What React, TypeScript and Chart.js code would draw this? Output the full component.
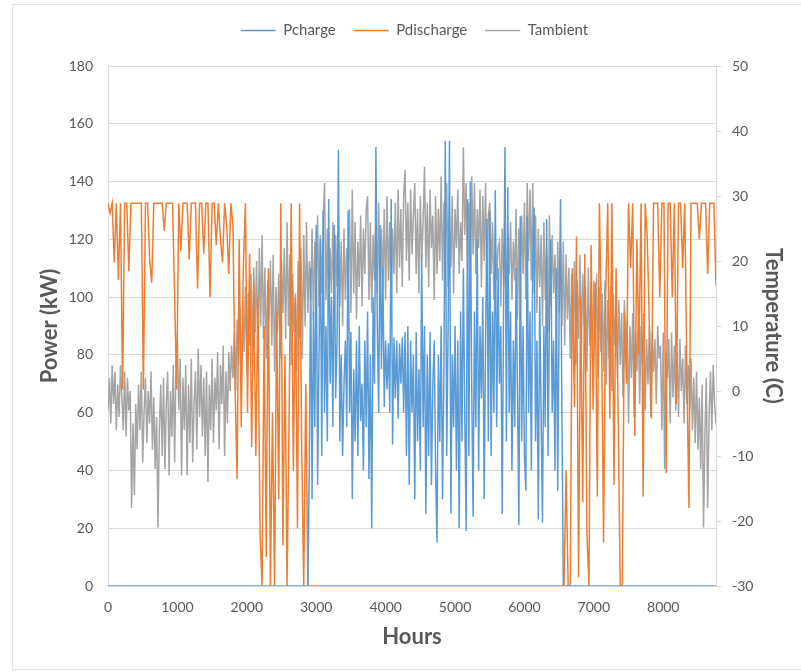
import { useEffect, useRef } from "react";
import { Chart, registerables } from "chart.js";

Chart.register(...registerables);

// ---- data ----
const yearHours = [0, 8760];
const xTickValues = [0, 1000, 2000, 3000, 4000, 5000, 6000, 7000, 8000];
const powerRange = [0, 180, 20];
const tempRange = [-30, 50, 10];

const seriesNames = ["Pcharge", "Pdischarge", "Tambient"];
const seriesColors = ["#5B9BD5", "#ED7D31", "#A5A5A5"];

// Pcharge: zero outside the charging season, sampled every 20 h inside it
const chargeOffHours = [0, 2880, 6560, 8760];
const chargeStartHour = 2900;
const chargeStep = 20;
const chargeKW = [
  40, 110, 30, 95, 55, 125, 35, 80, 120, 45,
  130, 60, 90, 50, 134, 70, 100, 55, 125, 65,
  85, 151, 50, 80, 45, 70, 85, 55, 130, 60,
  88, 30, 75, 50, 85, 45, 90, 57, 70, 40,
  85, 55, 95, 37, 80, 20, 100, 70, 152, 90,
  60, 125, 75, 110, 62, 85, 68, 84, 60, 134,
  49, 86, 65, 85, 58, 84, 70, 86, 60, 88,
  45, 90, 35, 85, 60, 80, 30, 88, 50, 75,
  40, 115, 55, 90, 25, 80, 45, 88, 35, 70,
  85, 40, 15, 80, 50, 90, 30, 75, 154, 45,
  88, 154, 25, 80, 55, 90, 40, 85, 20, 95,
  50, 110, 60, 19, 134, 45, 140, 70, 24, 95,
  55, 120, 40, 90, 65, 100, 30, 85, 127, 50,
  130, 45, 95, 60, 137, 55, 110, 70, 90, 25,
  100, 152, 50, 138, 60, 95, 40, 85, 55, 110,
  65, 21, 128, 50, 90, 45, 33, 128, 60, 95,
  40, 115, 131, 50, 85, 23, 100, 60, 22, 90,
  55, 127, 45, 95, 120, 60, 85, 40, 110, 33,
  95, 134, 60,
];

// Pdischarge, sampled every 30 h: winter/spring part and autumn part
const dischargeStep = 30;
const dischargeEarlyStartHour = 0;
const dischargeEarlyKW = [
  132.5, 129, 132.5, 112, 132.5, 106, 132.5, 68, 132.5, 132.5,
  109, 132.5, 132.5, 132.5, 132.5, 132.5, 132.5, 68, 132.5, 132.5,
  113, 105, 132.5, 132.5, 132.5, 132.5, 132.5, 123, 132.5, 132.5,
  132.5, 132.5, 100, 68, 132.5, 116, 132.5, 132.5, 132.5, 113,
  132.5, 132.5, 132.5, 103, 132.5, 132.5, 115, 132.5, 132.5, 100,
  132.5, 132.5, 118, 132.5, 120, 112, 132.5, 125, 108, 132.5,
  125, 70, 37, 120, 55, 110, 132.5, 60, 115, 48,
  105, 45, 100, 19, 0, 90, 10, 110, 0, 60,
  0, 95, 30, 132.5, 14, 80, 0, 60, 132.5, 40,
  100, 20, 132.5, 50, 0, 70, 0,
];
const dischargeLateStartHour = 6570;
const dischargeLateKW = [
  0, 40, 0, 0, 110, 62, 121, 3, 100, 29,
  115, 18, 0, 118, 61, 105, 31, 132.5, 90, 15,
  100, 132.5, 58, 132.5, 35, 110, 60, 0, 0, 95,
  70, 132.5, 110, 132.5, 52, 120, 80, 132.5, 31, 132.5,
  120, 90, 58, 132.5, 132.5, 132.5, 100, 132.5, 132.5, 39,
  132.5, 132.5, 100, 132.5, 63, 132.5, 132.5, 110, 132.5, 75,
  27, 132.5, 132.5, 132.5, 132.5, 120, 132.5, 132.5, 132.5, 108,
  132.5, 132.5, 132.5, 104,
];

// Tambient (C), sampled every 20 h from hour 0
const tempStartHour = 0;
const tempStep = 20;
const tempC = [
  -3, 2, -5, 4, -2, 3, -6, 1, -4, 4,
  -1, -6, 3, -7, 2, -3, 0, -18, -5, -16,
  -2, -9, 1, -6, 3, -11, -3, 2, -8, 0,
  -5, 3, -9, -1, -12, -4, -21, -6, 1, -10,
  2, -12, -2, 3, -13, 0, -7, 4, -11, 5,
  7.5, -3, 5, -13, 2, -6, 4, -13, 1, -8,
  5, -11, -2, 3, -9, 6.5, -4, 4, -7, 2,
  -10, 3, -14, 1, -6, 5, -8, 2, -3, 6,
  -9, 4, -2, 7, -10, 3, -5, 6, 0, 7,
  2, 9, 0, 11, 4, 13, 1, 14, 6, 16,
  3, 15, 7, 18, 4, 19, 9, 20, 6, 22,
  10, 24, 8, 19, 5, 17, 11, 20, 7, 21,
  3, 16, 9, 18, 5, 20, 12, 22, 8, 26,
  10, 21, 4, 18, 9, 15, 3, 20, 8, 22,
  5, 24, 10, 26, 12, 20, 14, 25, 11, 23,
  16, 27, 13, 24, 15, 26, 32, 14, 25, 12,
  22, 15, 26, 11, 24, 16, 27, 13, 23, 10,
  25, 14, 22, 17, 28, 12, 31, 15, 26, 11,
  23, 16, 27, 13, 25, 18, 28, 30, 14, 26,
  12, 24, 17, 27, 15, 29, 13, 25, 16, 28,
  14, 30, 17, 26, 12, 25, 18, 29, 15, 31,
  19, 28, 16, 30, 34, 20, 29, 17, 31, 21,
  27, 32, 18, 28, 15, 30, 20, 26, 34.5, 19,
  29, 16, 31, 22, 27, 14, 30, 18, 28, 20,
  33, 17, 29, 21, 32, 16, 27, 19, 30, 15,
  28, 22, 31, 18, 26, 20, 37.5, 24, 32, 19,
  29, 17, 33, 21, 32, 18, 28, 22, 31, 16,
  30, 20, 32, 15, 27, 29, 18, 26, 14, 25,
  17, 22, 23, 13, 25, 16, 27, 12, 24, 18,
  26, 14, 23, 17, 28, 11, 25, 15, 27, 18,
  29, 14, 32, 20, 31, 17, 32, 15, 27, 12,
  25, 16, 24, 10, 26, 14, 22, 9, 27, 13,
  24, 15, 21, 8, 23, 12, 22, 10, 23, 7,
  21, 11, 19, 5, 18, 9, 20, 4, 17, 8,
  21, 6, 18, 10, 16, 3, 19, 7, 15, 5,
  17, 9, 18, 2, 16, 6, 15, 3, 17, 1,
  14, 5, 16, 0, 15, 7, 13, 2, 14, 4,
  12, -1, 14, 6, 11, -5, 10, 2, 12, -4,
  9, 3, 11, -2, 10, 4, 12, -3, 8, 1,
  10, -4, 9, 3, 8, -2, 10, 5, 7, -6,
  9, -12, 6, 2, 8, -5, 9, -1, 7, -3,
  6, -4, 8, 0, 5, -5, 7, -2, 4, -3,
  5, -6, 2, -8, 3, -9, -1, -12, 1, -21,
  -7, 2, -18, -4, 3, -6, 4, -2, -5,
];

// ---- helpers ----
const toPoints = (start: number, step: number, values: number[]) =>
  values.map((v, k) => ({ x: start + k * step, y: v }));

const chargePoints = [
  { x: chargeOffHours[0], y: 0 },
  { x: chargeOffHours[1], y: 0 },
  ...toPoints(chargeStartHour, chargeStep, chargeKW),
  { x: chargeOffHours[2], y: 0 },
  { x: chargeOffHours[3], y: 0 },
];
const dischargePoints = [
  ...toPoints(dischargeEarlyStartHour, dischargeStep, dischargeEarlyKW),
  ...toPoints(dischargeLateStartHour, dischargeStep, dischargeLateKW),
];
const tempPoints = toPoints(tempStartHour, tempStep, tempC);

const TEXT = "#595959";
const GRID = "#D9D9D9";
const FONT = "Lato, 'Open Sans', sans-serif";

const legendHeightPlugin = {
  id: "legendHeight",
  beforeInit(chart: any) {
    const orig = chart.legend.fit;
    chart.legend.fit = function () {
      orig.call(this);
      this.height = 61;
    };
  },
};

export default function App() {
  const ref = useRef<HTMLCanvasElement>(null);

  useEffect(() => {
    Chart.defaults.font.family = FONT;
    const line = (i: number, data: any[], axis: string) => ({
      label: seriesNames[i],
      data,
      borderColor: seriesColors[i],
      backgroundColor: seriesColors[i],
      borderWidth: 1.5,
      pointRadius: 0,
      pointHoverRadius: 0,
      tension: 0,
      fill: false,
      yAxisID: axis,
    });
    const chart = new Chart(ref.current as HTMLCanvasElement, {
      type: "line",
      data: {
        datasets: [
          line(0, chargePoints, "y"),
          line(1, dischargePoints, "y"),
          line(2, tempPoints, "y1"),
        ],
      },
      plugins: [legendHeightPlugin],
      options: {
        responsive: false,
        animation: false,
        devicePixelRatio: 1,
        layout: { padding: { top: 5, left: 28, right: 0, bottom: 0 } },
        plugins: {
          tooltip: { enabled: false },
          legend: {
            position: "top",
            labels: {
              usePointStyle: true,
              pointStyle: "line",
              pointStyleWidth: 35,
              padding: 18,
              color: TEXT,
              font: { size: 15 },
            },
          },
        },
        scales: {
          x: {
            type: "linear",
            min: yearHours[0],
            max: yearHours[1],
            afterBuildTicks: (s: any) => {
              s.ticks = xTickValues.map((v) => ({ value: v }));
            },
            ticks: {
              autoSkip: false,
              maxRotation: 0,
              color: TEXT,
              font: { size: 14 },
              padding: 13,
              callback: (v: any) => String(v),
            },
            grid: { display: false, drawTicks: false },
            border: { display: true, color: GRID },
            title: {
              display: true,
              text: "Hours",
              color: TEXT,
              font: { size: 22, weight: "bold" },
              padding: { top: 0, bottom: 22 },
            },
            afterFit: (s: any) => {
              s.height = 86;
            },
          },
          y: {
            position: "left",
            min: powerRange[0],
            max: powerRange[1],
            ticks: { stepSize: powerRange[2], color: TEXT, font: { size: 14 }, padding: 15 },
            grid: { color: GRID, drawTicks: false },
            border: { display: true, color: GRID },
            title: {
              display: true,
              text: "Power (kW)",
              color: TEXT,
              font: { size: 22, weight: "bold" },
              padding: { top: 9, bottom: 0 },
            },
            afterFit: (s: any) => {
              s.width = 80;
            },
          },
          y1: {
            position: "right",
            min: tempRange[0],
            max: tempRange[1],
            ticks: { stepSize: tempRange[2], color: TEXT, font: { size: 14 }, padding: 11 },
            grid: { drawOnChartArea: false, color: GRID, tickLength: 5 },
            border: { display: true, color: GRID },
            title: {
              display: true,
              text: "Temperature (C)",
              color: TEXT,
              font: { size: 22, weight: "bold" },
              padding: { top: 15, bottom: 0 },
            },
            afterFit: (s: any) => {
              s.width = 85;
            },
          },
        },
      } as any,
    });
    return () => chart.destroy();
  }, []);

  return (
    <div
      style={{
        position: "absolute",
        left: 0,
        top: 0,
        width: 801,
        height: 672,
        background: "#fff",
        overflow: "hidden",
      }}
    >
      <div
        style={{
          position: "absolute",
          left: 12,
          top: 4,
          width: 800,
          height: 666,
          border: "1px solid #E3E3E3",
          boxSizing: "border-box",
        }}
      />
      <canvas
        ref={ref}
        width={801}
        height={672}
        style={{ position: "absolute", left: 0, top: 0 }}
      />
    </div>
  );
}
